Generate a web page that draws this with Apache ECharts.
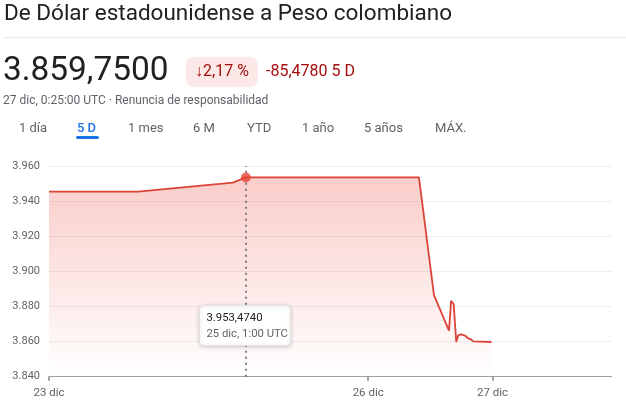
<!DOCTYPE html>
<html><head><meta charset="utf-8">
<script src="https://cdn.jsdelivr.net/npm/echarts@6/dist/echarts.min.js"></script>
<style>html,body{margin:0;padding:0;background:#fff}#c{width:626px;height:407px}</style>
</head><body><div id="c"></div>
<script>
// hours since 23 dic 0:00 (chart time scale)
const hours = [10.4, 27.6, 45.9, 48.4, 81.8, 84.7, 87.6, 88.0, 88.5, 89.0, 89.4, 90.0, 90.3, 90.8, 91.3, 91.8, 92.3, 95.8];
const values = [3945.4, 3945.4, 3950.5, 3953.474, 3953.474, 3886.5, 3866.2, 3883.2, 3881.4, 3859.8, 3863.7, 3864.1, 3863.1, 3863.3, 3861.8, 3861.3, 3860.1, 3859.75];
const xTickValues = [10.4, 72, 96];
const xTickLabels = ['23 dic', '26 dic', '27 dic'];
const yMin = 3840, yMax = 3960, yStep = 20;
const highlightIndex = 3;
const tipValue = '3.953,4740';
const tipDate = '25 dic, 1:00 UTC';
const titleText = 'De Dólar estadounidense a Peso colombiano';
const priceText = '3.859,7500';
const changePct = '↓2,17 %';
const changeAbs = '-85,4780 5 D';
const subText = '27 dic, 0:25:00 UTC · Renuncia de responsabilidad';
const tabs = ['1 día', '5 D', '1 mes', '6 M', 'YTD', '1 año', '5 años', 'MÁX.'];
const tabX = [19, 77, 128, 193, 247, 302, 364, 435];
const activeTab = 1;

const FONT = 'Roboto, "Noto Sans", sans-serif';
const fmtNum = v => String(Math.round(v)).replace(/\B(?=(\d{3})+(?!\d))/g, '.');

const chart = echarts.init(document.getElementById('c'), null, {renderer: 'canvas'});
const graphics = [
  {type: 'text', left: 4, top: 3, style: {text: titleText, font: '400 22.5px ' + FONT, fill: '#202124'}},
  {type: 'rect', shape: {x: 4, y: 37, width: 622, height: 1}, style: {fill: '#e8eaed'}},
  {type: 'text', left: 3, top: 55, style: {text: priceText, font: '400 33.4px ' + FONT, fill: '#202124'}},
  {type: 'rect', shape: {x: 186, y: 57, width: 72, height: 30, r: 8}, style: {fill: '#fce8e6'}},
  {type: 'text', x: 222, y: 72, style: {text: changePct, font: '400 16px ' + FONT, fill: '#a50e0e', align: 'center', verticalAlign: 'middle'}},
  {type: 'text', x: 266, y: 72, style: {text: changeAbs, font: '400 16px ' + FONT, fill: '#a50e0e', verticalAlign: 'middle'}},
  {type: 'text', x: 3, y: 101, style: {text: subText, font: '400 12px ' + FONT, fill: '#5f6368', verticalAlign: 'middle'}},
  {type: 'rect', shape: {x: 76, y: 136, width: 23, height: 3, r: 1.5}, style: {fill: '#1a73e8'}}
];
tabs.forEach((t, i) => {
  graphics.push({type: 'text', x: tabX[i], y: 128.5, style: {text: t, font: (i === activeTab ? '500' : '400') + ' 13px ' + FONT, fill: i === activeTab ? '#1a73e8' : '#5f6368', verticalAlign: 'middle'}});
});
graphics.push({
  type: 'group', left: 199, top: 305, zlevel: 1, children: [
    {type: 'rect', z: 100, shape: {x: 0, y: 0, width: 91, height: 40, r: 4}, style: {fill: '#fff', stroke: '#e3e3e3', lineWidth: 1, shadowBlur: 4, shadowColor: 'rgba(0,0,0,0.18)', shadowOffsetY: 1}},
    {type: 'text', z: 101, x: 7, y: 12.5, style: {text: tipValue, font: '400 11.3px ' + FONT, fill: '#202124', verticalAlign: 'middle'}},
    {type: 'text', z: 101, x: 7, y: 28.5, style: {text: tipDate, font: '400 11.3px ' + FONT, fill: '#5f6368', verticalAlign: 'middle'}}
  ]
});

chart.setOption({
  animation: false,
  grid: {left: 49, right: 14.3, top: 166, bottom: 30.3},
  graphic: graphics,
  xAxis: {
    type: 'value', min: 10.4, max: 119,
    splitLine: {show: false},
    axisLine: {show: true, lineStyle: {color: '#9aa0a6', width: 1.2}},
    axisTick: {show: true, customValues: xTickValues, length: 4, lineStyle: {color: '#80868b', width: 1.5}},
    axisLabel: {customValues: xTickValues, formatter: v => { const i = xTickValues.indexOf(v); return i >= 0 ? xTickLabels[i] : ''; }, color: '#5f6368', fontSize: 11.5, fontFamily: FONT, margin: 10}
  },
  yAxis: {
    type: 'value', min: yMin, max: yMax, interval: yStep,
    axisLine: {show: false}, axisTick: {show: false},
    splitLine: {lineStyle: {color: '#eceff1', width: 1}},
    axisLabel: {formatter: fmtNum, color: '#5f6368', fontSize: 11, fontFamily: FONT, margin: 9}
  },
  series: [
    {
      type: 'line', data: hours.map((h, i) => [h, values[i]]),
      symbol: 'none', lineStyle: {color: '#db4437', width: 1.8},
      areaStyle: {origin: 'start', color: new echarts.graphic.LinearGradient(0, 0, 0, 1, [
        {offset: 0, color: 'rgba(234,67,53,0.38)'}, {offset: 1, color: 'rgba(234,67,53,0)'}])},
      markLine: {silent: true, symbol: 'none', label: {show: false},
        lineStyle: {color: '#5f6368', type: [2, 4], width: 1.6},
        data: [{xAxis: hours[highlightIndex]}]}
    },
    {
      type: 'scatter', data: [[hours[highlightIndex], values[highlightIndex]]],
      symbolSize: 10, itemStyle: {color: '#ea4335'}, z: 5
    }
  ]
});
</script></body></html>
